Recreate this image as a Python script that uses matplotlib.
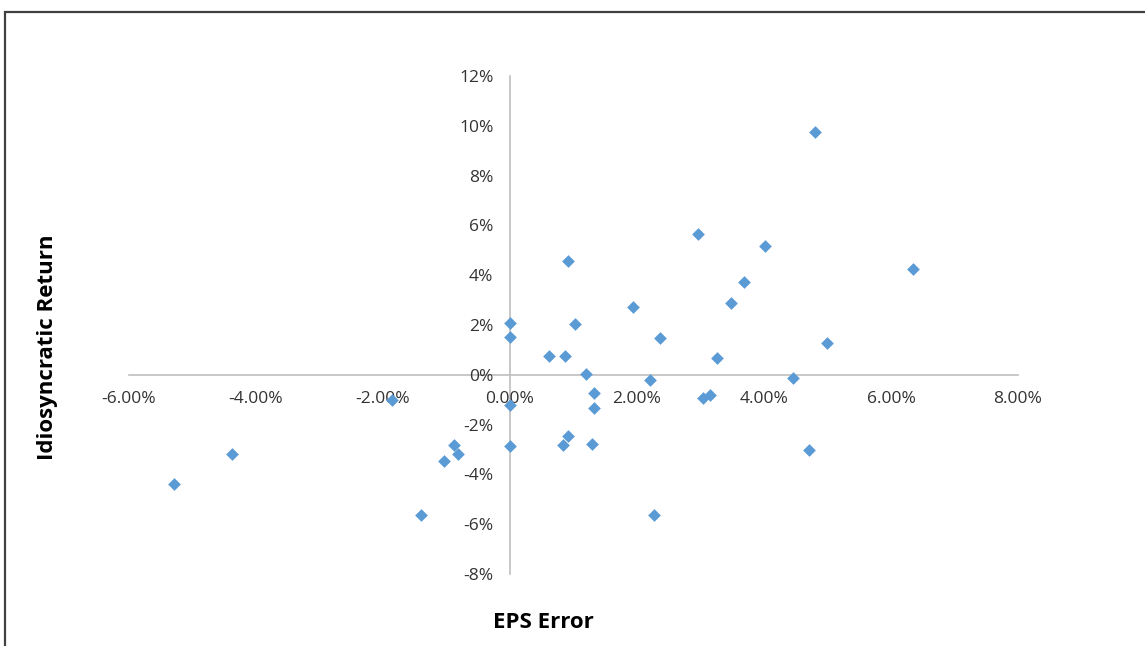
import matplotlib.pyplot as plt
from matplotlib.patches import Rectangle
from matplotlib.ticker import FuncFormatter

# EPS error (%) vs idiosyncratic return (%)
eps_error = [4.80, 2.96, 4.02, 0.91, 6.35, 3.69, 3.48, 1.94, 0.00, 1.02,
             2.36, 0.00, 4.99, 0.61, 0.87, 3.26, 1.20, 2.20, 4.46, 1.32,
             -1.86, 3.04, 3.15, 0.00, 1.32, 0.91, 0.83, 1.29, 0.00, -0.88,
             -0.82, -1.04, -4.38, -5.29, -1.40, 2.27, 4.71]
idio_return = [9.76, 5.64, 5.16, 4.56, 4.24, 3.72, 2.88, 2.72, 2.08, 2.04,
               1.48, 1.52, 1.28, 0.76, 0.76, 0.68, 0.04, -0.20, -0.12, -0.72,
               -1.00, -0.92, -0.80, -1.20, -1.32, -2.44, -2.80, -2.76, -2.84, -2.80,
               -3.20, -3.48, -3.20, -4.40, -5.64, -5.64, -3.04]

x_ticks = [-6, -4, -2, 0, 2, 4, 6, 8]
y_ticks = [-8, -6, -4, -2, 0, 2, 4, 6, 8, 10, 12]

plt.rcParams["font.family"] = ["Open Sans", "DejaVu Sans"]

fig = plt.figure(figsize=(11.45, 6.46), dpi=100)
ax = fig.add_axes([129 / 1145, 1 - 574 / 646, 889 / 1145, 498 / 646])

# 点
ax.scatter(eps_error, idio_return, marker="D", s=42, color="#5B9BD5",
           linewidths=0, zorder=5, clip_on=False)

ax.set_xlim(-6, 8)
ax.set_ylim(-8, 12)
ax.set_xticks(x_ticks)
ax.set_yticks(y_ticks)
ax.xaxis.set_major_formatter(FuncFormatter(lambda v, p: f"{v:.2f}%"))
ax.yaxis.set_major_formatter(FuncFormatter(lambda v, p: f"{v:.0f}%"))

# 坐标轴交于原点
for side in ["top", "right"]:
    ax.spines[side].set_visible(False)
ax.spines["left"].set_position(("data", 0))
ax.spines["bottom"].set_position(("data", 0))
for side in ["left", "bottom"]:
    ax.spines[side].set_color("#bfbfbf")
    ax.spines[side].set_linewidth(1.2)
    ax.spines[side].set_zorder(1)

ax.tick_params(axis="x", length=0, pad=12, labelsize=12.5, labelcolor="#333333")
ax.tick_params(axis="y", length=0, pad=12, labelsize=12.5, labelcolor="#333333")
ax.patch.set_visible(False)

fig.text(543 / 1145, 1 - 622 / 646, "EPS Error", ha="center", va="center",
         fontsize=16, fontweight="bold", color="black")
fig.text(48 / 1145, 1 - 347 / 646, "Idiosyncratic Return", ha="center", va="center",
         rotation=90, fontsize=16, fontweight="bold", color="black")

# 外框
fig.patches.append(Rectangle((5 / 1145, -0.1), 1.2, 1 - 12 / 646 + 0.1,
                             transform=fig.transFigure, fill=False,
                             edgecolor="#404040", linewidth=1.6))

plt.savefig("out.png", dpi=100)
